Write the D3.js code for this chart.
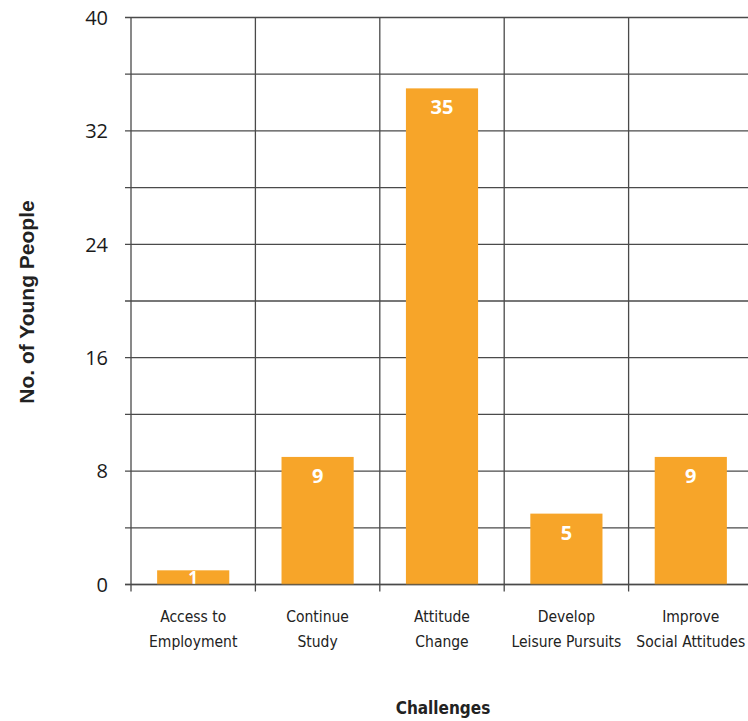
<!DOCTYPE html>
<html>
<head>
<meta charset="utf-8">
<script src="https://cdn.jsdelivr.net/npm/d3@7/dist/d3.min.js"></script>
<style>
  html, body { margin: 0; padding: 0; background: #fff; }
  svg { display: block; }
</style>
</head>
<body>
<div id="chart"></div>
<script>
// Responses per challenge
const categories = [
  ["Access to", "Employment"],
  ["Continue", "Study"],
  ["Attitude", "Change"],
  ["Develop", "Leisure Pursuits"],
  ["Improve", "Social Attitudes"]
];
const values = [1, 9, 35, 5, 9];
const tickValues = [0, 8, 16, 24, 32, 40];
const gridValues = [0, 4, 8, 12, 16, 20, 24, 28, 32, 36, 40];

const W = 748, H = 721;
const margin = { top: 17.5, left: 131, right: -5, bottom: 136.5 };
const innerW = W - margin.left - margin.right;
const innerH = H - margin.top - margin.bottom;

const svg = d3.select("#chart").append("svg")
  .attr("width", W).attr("height", H);
const g = svg.append("g").attr("transform", `translate(${margin.left},${margin.top})`);

const x = d3.scaleBand().domain(d3.range(categories.length)).range([0, innerW]).paddingInner(0.42).paddingOuter(0.21);
const xEdges = d3.scaleBand().domain(d3.range(categories.length)).range([0, innerW]).padding(0);
const y = d3.scaleLinear().domain([0, 40]).range([innerH, 0]);

const gridColor = "#4a4a4a";
const condensed = "'Liberation Sans Narrow', 'DejaVu Sans Condensed', sans-serif";

// horizontal grid lines, each with a short tick to the left
g.append("g").selectAll("line").data(gridValues).join("line")
  .attr("x1", -6).attr("x2", innerW)
  .attr("y1", d => y(d)).attr("y2", d => y(d))
  .attr("stroke", gridColor).attr("stroke-width", 1.3);

// vertical separators between categories, extending below the baseline
const edges = d3.range(categories.length + 1).map(i => i < categories.length ? xEdges(i) : innerW);
g.append("g").selectAll("line").data(edges).join("line")
  .attr("x1", d => d).attr("x2", d => d)
  .attr("y1", 0).attr("y2", innerH + 7)
  .attr("stroke", gridColor).attr("stroke-width", 1.3);

// bars
g.append("g").selectAll("rect").data(values).join("rect")
  .attr("x", (d, i) => x(i)).attr("width", x.bandwidth())
  .attr("y", d => y(d)).attr("height", d => innerH - y(d))
  .attr("fill", "#F7A529");

// value labels inside the bars; short bars get a smaller label that fits
const isShort = d => innerH - y(d) < 24;
g.append("g").selectAll("text").data(values).join("text")
  .attr("x", (d, i) => x(i) + x.bandwidth() / 2)
  .attr("y", d => isShort(d) ? innerH - 1 : y(d) + 26)
  .attr("text-anchor", "middle")
  .attr("fill", "#fff")
  .attr("font-family", "'Open Sans', sans-serif")
  .attr("font-weight", 700)
  .attr("font-size", d => isShort(d) ? 17 : 20)
  .text(d => d);

// baseline over the bars
g.append("line")
  .attr("x1", -6).attr("x2", innerW)
  .attr("y1", y(0)).attr("y2", y(0))
  .attr("stroke", gridColor).attr("stroke-opacity", 0.6).attr("stroke-width", 1.3);

// y tick labels
g.append("g").selectAll("text").data(tickValues).join("text")
  .attr("x", -23).attr("y", d => y(d))
  .attr("dy", "0.36em")
  .attr("text-anchor", "end")
  .attr("fill", "#1a1a1a")
  .attr("font-family", "'Open Sans', sans-serif")
  .attr("font-size", 20)
  .text(d => d);

// category labels (two lines each)
const catG = g.append("g");
categories.forEach((lines, i) => {
  const cx = xEdges(i) + xEdges.bandwidth() / 2;
  const t = catG.append("text")
    .attr("x", cx)
    .attr("y", innerH + 37)
    .attr("text-anchor", "middle")
    .attr("fill", "#222")
    .attr("font-family", condensed)
    .attr("font-size", 15.5);
  lines.forEach((ln, j) => {
    t.append("tspan").attr("x", cx)
      .attr("dy", j === 0 ? 0 : 25).text(ln);
  });
});

// axis titles
svg.append("text")
  .attr("x", 443).attr("y", 714)
  .attr("text-anchor", "middle")
  .attr("fill", "#222")
  .attr("font-family", condensed)
  .attr("font-weight", 700)
  .attr("font-size", 17)
  .text("Challenges");

svg.append("text")
  .attr("transform", "translate(34,302) rotate(-90)")
  .attr("text-anchor", "middle")
  .attr("fill", "#222")
  .attr("font-family", "'Liberation Sans', Arial, sans-serif")
  .attr("font-weight", 700)
  .attr("font-size", 21)
  .text("No. of Young People");
</script>
</body>
</html>
